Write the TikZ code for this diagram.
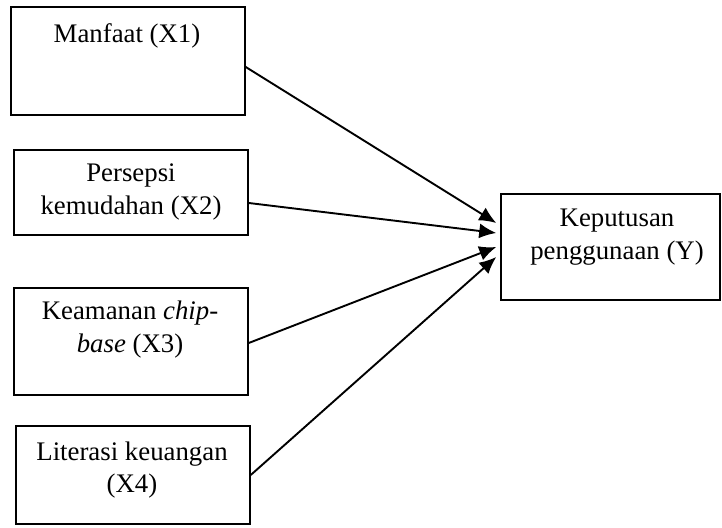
\documentclass[tikz,border=0pt]{standalone}
\usepackage{fontspec}
\setmainfont{Liberation Serif}
\usetikzlibrary{arrows.meta}
\begin{document}
\begin{tikzpicture}[x=0.5pt,y=-0.5pt,
  box/.style={draw, line width=0.75pt, inner sep=0pt, minimum width=117pt},
  lbl/.style={align=center, font=\fontsize{13.4}{16.5}\selectfont, anchor=base, inner sep=0pt},
  arr/.style={-{Latex[length=8.5pt,width=7.5pt]}, line width=0.95pt}]
\useasboundingbox (0,0) rectangle (722,528);
% boxes
\node[box, minimum height=54pt] (b1) at (128,61) {};
\node[box, minimum height=42.5pt] (b2) at (131,192.5) {};
\node[box, minimum height=53.5pt] (b3) at (131,341.5) {};
\node[box, minimum height=49pt] (b4) at (133,475) {};
\node[box, minimum width=109.5pt, minimum height=53pt] (y) at (610.5,247) {};
% labels (anchor base = last line baseline)
\node[lbl] (t1) at (127,43) {Manfaat (X1)};
\node[lbl] (t2) at (131,215) {Persepsi\\kemudahan (X2)};
\node[lbl] (t3) at (130,353) {Keamanan \textit{chip-}\\\textit{base} (X3)};
\node[lbl] (t4) at (132,493) {Literasi keuangan\\(X4)};
\node[lbl] (ty) at (617,260) {Keputusan\\penggunaan (Y)};
% arrows
\draw[arr] (b1.east |- 0,67) -- ([xshift=-2pt]y.west |- 0,223);
\draw[arr] (b2.east |- 0,203) -- ([xshift=-2pt]y.west |- 0,233);
\draw[arr] (b3.east |- 0,343) -- ([xshift=-2pt]y.west |- 0,247);
\draw[arr] (b4.east |- 0,475) -- ([xshift=-2pt]y.west |- 0,257);
\end{tikzpicture}
\end{document}
